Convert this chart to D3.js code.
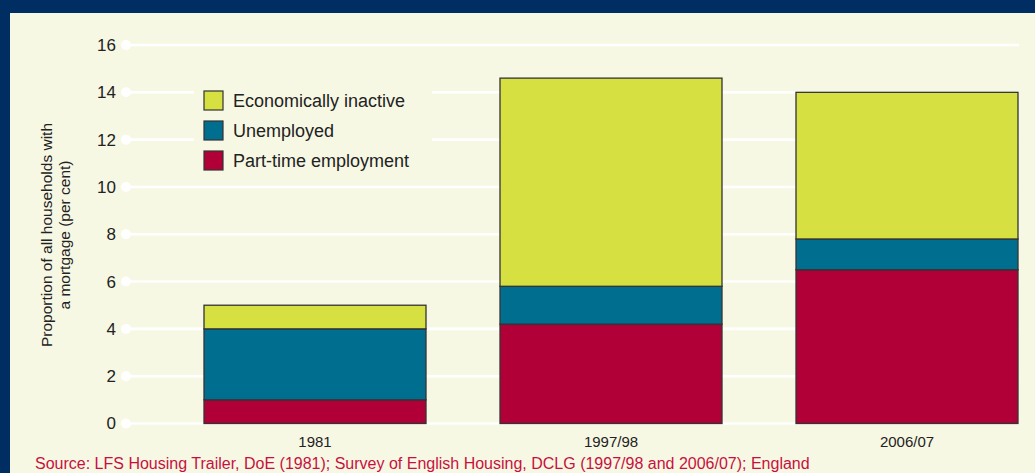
<!DOCTYPE html>
<html><head><meta charset="utf-8">
<script src="https://cdn.jsdelivr.net/npm/d3@7"></script>
<style>html,body{margin:0;padding:0;background:#f7f8e4;overflow:hidden;width:1035px;height:473px;}svg{display:block;font-family:"Liberation Sans",Arial,sans-serif;}</style>
</head><body><svg id="c" width="1035" height="473"></svg>
<script>
const categories = ["1981", "1997/98", "2006/07"];
const partTime = [1.0, 4.2, 6.5];
const unemployed = [3.0, 1.6, 1.3];
const inactive = [1.0, 8.8, 6.2];
const yTicks = [0, 2, 4, 6, 8, 10, 12, 14, 16];
const seriesNames = ["Part-time employment", "Unemployed", "Economically inactive"];
const seriesColors = ["#b10038", "#006f8f", "#d6e040"];

const svg = d3.select("#c");
const W = 1035, H = 473;
svg.append("rect").attr("width", W).attr("height", H).attr("fill", "#f7f8e4");
svg.append("rect").attr("x", 0).attr("y", 0).attr("width", W).attr("height", 13).attr("fill", "#002d62");
svg.append("rect").attr("x", 0).attr("y", 0).attr("width", 10).attr("height", H).attr("fill", "#002d62");

const y = d3.scaleLinear().domain([0, 16]).range([423.5, 45]);
const x = d3.scaleBand().domain(categories).range([167, 1055]).paddingInner(0.25).paddingOuter(0.125);

// gridlines
const g = svg.append("g");
yTicks.forEach(t => {
  g.append("line").attr("x1", 126).attr("x2", 1019).attr("y1", y(t)).attr("y2", y(t))
    .attr("stroke", "#ffffff").attr("stroke-width", 2.6);
  g.append("circle").attr("cx", 126).attr("cy", y(t)).attr("r", 5).attr("fill", "#ffffff");
  g.append("text").attr("x", 116).attr("y", y(t)).attr("dy", "0.35em").attr("text-anchor", "end")
    .attr("font-size", 17).attr("fill", "#222").text(t);
});

// stacked bars
const rows = categories.map((c, i) => ({cat: c, s0: partTime[i], s1: unemployed[i], s2: inactive[i]}));
const stack = d3.stack().keys(["s0", "s1", "s2"])(rows);
stack.forEach((layer, li) => {
  svg.append("g").selectAll("rect").data(layer).join("rect")
    .attr("x", d => x(d.data.cat)).attr("width", x.bandwidth())
    .attr("y", d => y(d[1])).attr("height", d => y(d[0]) - y(d[1]))
    .attr("fill", seriesColors[li]).attr("stroke", "#333").attr("stroke-width", 1.3);
});

// category labels
categories.forEach(c => {
  svg.append("text").attr("x", x(c) + x.bandwidth() / 2).attr("y", 447).attr("text-anchor", "middle")
    .attr("font-size", 15).attr("fill", "#222").text(c);
});

// legend
svg.append("rect").attr("x", 194).attr("y", 84).attr("width", 238).attr("height", 94).attr("fill", "#f7f8e4");
const legendOrder = [2, 1, 0];
legendOrder.forEach((si, k) => {
  const ly = 91 + k * 30;
  svg.append("rect").attr("x", 204).attr("y", ly).attr("width", 19).attr("height", 19)
    .attr("fill", seriesColors[si]).attr("stroke", "#333").attr("stroke-width", 1.2);
  svg.append("text").attr("x", 233).attr("y", ly + 10).attr("dy", "0.35em")
    .attr("font-size", 18).attr("fill", "#222").text(seriesNames[si]);
});

// y title
const yt = svg.append("text").attr("transform", "translate(52,235) rotate(-90)")
  .attr("text-anchor", "middle").attr("font-size", 15.5).attr("fill", "#222");
yt.append("tspan").attr("x", 0).attr("dy", 0).text("Proportion of all households with");
yt.append("tspan").attr("x", 0).attr("dy", 18).text("a mortgage (per cent)");

// source
svg.append("text").attr("x", 35).attr("y", 469).attr("font-size", 16).attr("fill", "#c8103e")
  .text("Source: LFS Housing Trailer, DoE (1981); Survey of English Housing, DCLG (1997/98 and 2006/07); England");
</script></body></html>
